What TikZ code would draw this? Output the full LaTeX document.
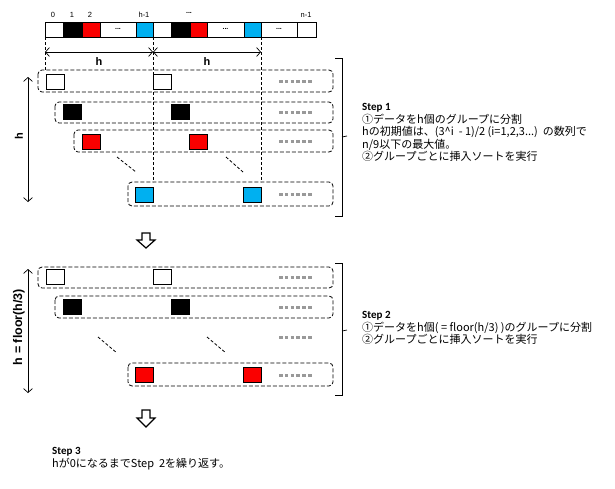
\documentclass[tikz,border=0pt]{standalone}
\usepackage{fontspec}
\setmainfont{Liberation Sans}
\newfontfamily\jpfont{Noto Sans CJK JP}
\newfontfamily\stepfont{Carlito}
\usetikzlibrary{arrows.meta}
\definecolor{cellred}{RGB}{250,0,0}
\definecolor{cellblue}{RGB}{0,176,240}
\tikzset{
  barb/.style={{Straight Barb[length=4pt,width=9pt]}-{Straight Barb[length=4pt,width=9pt]}, line width=0.7pt},
  grp/.style={dashed, dash pattern=on 4pt off 2pt, rounded corners=4pt, line width=0.8pt},
  guide/.style={dash pattern=on 3pt off 2pt, line width=0.8pt},
  more/.style={gray!80, line width=3pt, dash pattern=on 3.6pt off 2.2pt},
  sq/.style={draw, line width=0.6pt},
  hollow/.style={draw, line width=1.2pt, fill=white, line join=miter},
  idx/.style={font=\fontsize{7.5}{8}\selectfont, inner sep=0pt},
  hlab/.style={font=\fontsize{11}{12}\selectfont\bfseries, inner sep=0pt},
  steptext/.style={anchor=north west, align=left, inner sep=0pt, font=\jpfont\fontsize{11}{12.6}\selectfont}
}
\begin{document}
\begin{tikzpicture}[x=1pt,y=-1pt]
    \useasboundingbox (0,0) rectangle (615,488);
    % data array
    \foreach \a/\b/\c in {45/63/white, 63/82/black, 82/100/cellred, 100/136/white, 136/153/cellblue, 153/171/white,
                          171/190/black, 190/207/cellred, 207/244/white, 244/261/cellblue, 261/297/white, 297/316/white} {
      \draw[sq, fill=\c] (\a,22) rectangle (\b,37);
    }
    \foreach \m [count=\i] in {118,225.5,279} {
      \node[idx, font=\fontsize{7}{8}\selectfont\bfseries] (cdots\i) at (\m,29) {...};
    }
    \node[idx] (i0) at (53,15) {0};
    \node[idx] (i1) at (72,15) {1};
    \node[idx] (i2) at (90,15) {2};
    \node[idx] (ih) at (144,15) {h-1};
    \node[idx, font=\fontsize{7}{8}\selectfont\bfseries] (imid) at (189,13) {...};
    \node[idx] (in) at (306,15) {n-1};
    % h spacing
    \coordinate (g0) at (45,52);
    \coordinate (g1) at (153,52);
    \coordinate (g2) at (261,52);
    \draw[guide] (45,37) -- (45,70);
    \draw[guide] (153,37) -- (153,182);
    \draw[guide] (261,37) -- (261,182);
    \draw[barb] (g0) -- (g1) node[hlab, midway, yshift=-10pt] (hA) {h};
    \draw[barb] (g1) -- (g2) node[hlab, midway, yshift=-10pt] (hB) {h};
    % step 1 groups
    \draw[grp] (38,70) rectangle (333,92);
    \draw[grp] (55,102) rectangle (333,123);
    \draw[grp] (74,130) rectangle (333,152);
    \draw[grp] (128,182) rectangle (333,206);
    \foreach \x/\y/\c in {46/74/white, 153/74/white, 63/104/black, 171/104/black,
                          82/134/cellred, 189/134/cellred, 135/187/cellblue, 243/187/cellblue} {
      \draw[sq, fill=\c] (\x,\y) rectangle ++(18,15);
    }
    \foreach \y in {81,112,141,194} {
      \draw[more] (279,\y) -- (313,\y);
    }
    \draw[guide] (117,157) -- (136,172);
    \draw[guide] (226,157) -- (243,172);
    \coordinate (s1top) at (28,77);
    \coordinate (s1bot) at (28,202);
    \draw[barb] (s1top) -- (s1bot);
    \node[hlab, rotate=90] (hC) at (19,136) {h};
    \draw[line width=0.7pt] (335,58) -- (342,58) -- (342,216) -- (335,216);
    \draw[line width=0.7pt] (342,137) -- (347,136);
    \node[steptext] (step1) at (362,103) {{\stepfont\bfseries Step 1}\\
      ①データをh個のグループに分割\\
      hの初期値は、(3\^{}i\ \ - 1)/2 (i=1,2,3...)\ \ の数列で\\
      n/9以下の最大値。\\
      ②グループごとに挿入ソートを実行};
    % arrow to step 2
    \draw[hollow] (142,233) -- (150,233) -- (150,240) -- (155,240) -- (146,248) -- (137,240) -- (142,240) -- cycle;
    % step 2 groups
    \draw[grp] (38,267) rectangle (333,288);
    \draw[grp] (55,296) rectangle (333,318);
    \draw[grp] (128,363) rectangle (333,386);
    \foreach \x/\y/\c in {46/269/white, 153/269/white, 63/299/black, 171/299/black,
                          135/367/cellred, 243/367/cellred} {
      \draw[sq, fill=\c] (\x,\y) rectangle ++(18,15);
    }
    \foreach \y in {277,307,337,375} {
      \draw[more] (279,\y) -- (313,\y);
    }
    \draw[guide] (98,337) -- (117,353);
    \draw[guide] (207,337) -- (226,353);
    \coordinate (s2top) at (28,269);
    \coordinate (s2bot) at (28,393);
    \draw[barb] (s2top) -- (s2bot);
    \node[hlab, rotate=90, font=\fontsize{12.5}{13}\selectfont\bfseries] (hD) at (19,327) {h = floor(h/3)};
    \draw[line width=0.7pt] (335,263) -- (342,263) -- (342,395) -- (335,395);
    \draw[line width=0.7pt] (342,331) -- (347,330);
    \node[steptext] (step2) at (362,311) {{\stepfont\bfseries Step 2}\\
      ①データをh個( = floor(h/3) )のグループに分割\\
      ②グループごとに挿入ソートを実行};
    % arrow to step 3
    \draw[hollow] (142,410) -- (150,410) -- (150,418) -- (155,418) -- (146,427) -- (137,418) -- (142,418) -- cycle;
    \node[steptext] (step3) at (52,447) {{\stepfont\bfseries Step 3}\\
      hが0になるまでStep\ \ 2を繰り返す。};
\end{tikzpicture}
\end{document}
